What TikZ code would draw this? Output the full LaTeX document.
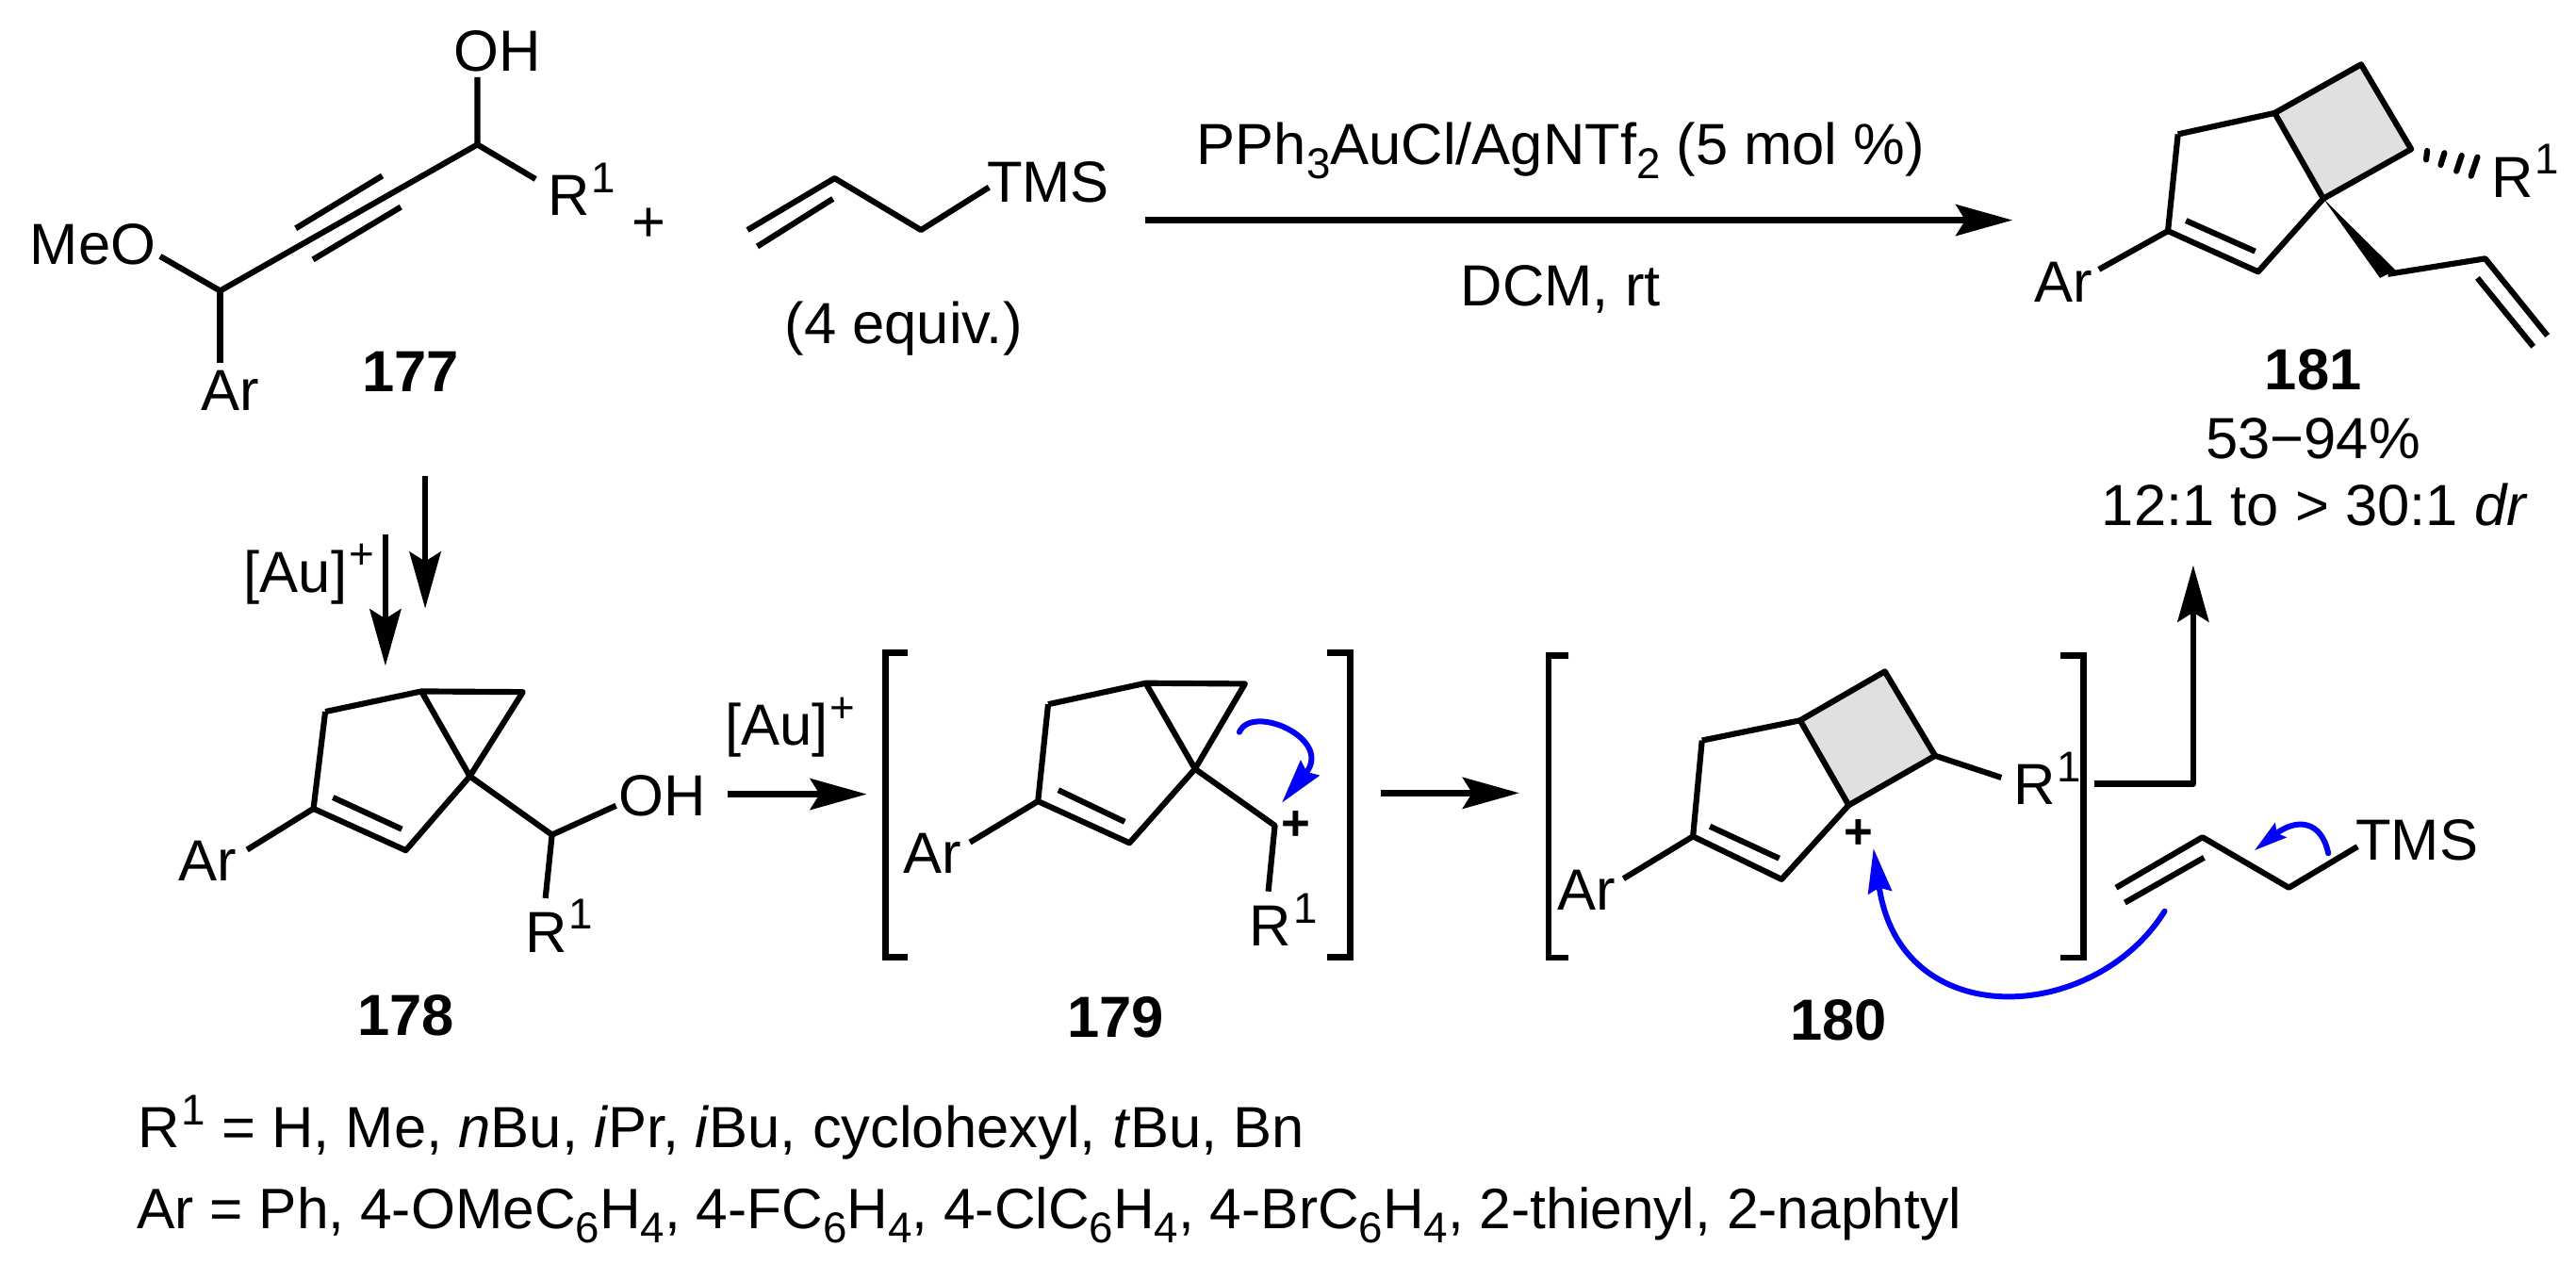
\documentclass[tikz,border=0pt]{standalone}
\usepackage{fontspec}
\setmainfont{Liberation Sans}
\usetikzlibrary{arrows.meta,positioning,calc}
\definecolor{ringgray}{gray}{0.88}
\newcommand{\supmark}[1]{\kern0.6pt\raisebox{6.9pt}{\fontsize{13}{13}\selectfont #1}}
\newcommand{\submark}[1]{\raisebox{-4.3pt}{\fontsize{13}{13}\selectfont #1}}
\tikzset{
  bond/.style={line width=1.75pt,line join=round},
  rxnarrow/.style={line width=1.9pt,line join=round,-{Stealth[length=0.6cm,width=0.33cm,inset=0.1cm]}},
  curlyarrow/.style={blue,line width=1.7pt,line cap=round,-{Stealth[length=0.47cm,width=0.25cm,inset=0.05cm]}},
  brack/.style={line width=1.9pt,line join=miter},
  atomlabel/.style={inner sep=0pt,font=\fontsize{17.5}{20}\selectfont},
  Rlabel/.style={atomlabel,anchor=base west},
  cmpd/.style={atomlabel,font=\fontsize{17.5}{20}\selectfont\bfseries},
  cation/.style={atomlabel,font=\fontsize{15}{18}\selectfont\bfseries},
  notes/.style={atomlabel,anchor=base west}
}
\begin{document}
\begin{tikzpicture}[x=0.01743cm,y=-0.01743cm]
	\useasboundingbox (0,0) rectangle (1568,769);

	% Propargylic substrate 177
	\coordinate (sA) at (290.6,88);
	\coordinate (sB) at (134,177);
	\coordinate (sOH) at (290.6,47);
	\coordinate (sR) at (326,109);
	\coordinate (sMeO) at (97.5,156);
	\coordinate (sAr) at (134,221);
	\coordinate (sT1) at (232.7,107);
	\coordinate (sT2) at (180,139);
	\coordinate (sT3) at (244,126);
	\coordinate (sT4) at (190.5,158);
	\draw[bond] (sOH) -- (sA) -- (sR);
	\draw[bond] (sA) -- (sB) -- (sMeO);
	\draw[bond] (sB) -- (sAr);
	\draw[bond] (sT1) -- (sT2);
	\draw[bond] (sT3) -- (sT4);
	\node[atomlabel] (oh177) at (303,31) {OH};
	\node[Rlabel] (r177) at (333,131) {R\supmark{1}};
	\node[atomlabel] (meo177) at (56.5,149) {MeO};
	\node[atomlabel] (ar177) at (140,238) {Ar};
	\node[cmpd] (lab177) at (250,226) {177};
	\node[atomlabel] (plus) at (395,137) {+};

	% Allyl silane
	\coordinate (aA) at (455,140);
	\coordinate (aB) at (508,108.5);
	\coordinate (aC) at (560.6,140);
	\coordinate (aD) at (602,114);
	\coordinate (aE) at (461,150);
	\coordinate (aF) at (507,121);
	\draw[bond] (aA) -- (aB) -- (aC) -- (aD);
	\draw[bond] (aE) -- (aF);
	\node[atomlabel] (tms) at (638,111) {TMS};
	\node[atomlabel] (equiv) at (550,200) {(4 equiv.)};

	% Top reaction arrow
	\coordinate (topL) at (697,134);
	\coordinate (topR) at (1225,134);
	\draw[rxnarrow] (topL) -- (topR);
	\node[atomlabel,anchor=base] (cat) at (950,100) {PPh\submark{3}AuCl/AgNTf\submark{2} (5 mol \%)};
	\node[atomlabel] (solv) at (950,176) {DCM, rt};

	% Product 181
	\coordinate (pA) at (1437.2,39.2);
	\coordinate (pB) at (1384.6,68.8);
	\coordinate (pC) at (1325.7,81.7);
	\coordinate (pD) at (1319.6,140.6);
	\coordinate (pE) at (1374.5,165.4);
	\coordinate (pF) at (1414.2,120.9);
	\coordinate (pG) at (1467.7,90.8);
	\coordinate (pH) at (1330.6,134.3);
	\coordinate (pI) at (1372.7,153);
	\coordinate (pAr) at (1277.6,164);
	\coordinate (pJa) at (1448.7,169.2);
	\coordinate (pJb) at (1458.2,164.5);
	\coordinate (pK) at (1512.7,157.4);
	\coordinate (pL) at (1550.6,204.3);
	\coordinate (pM) at (1508,169.2);
	\coordinate (pN) at (1542,211);
	\fill[ringgray] (pB) -- (pA) -- (pG) -- (pF) -- cycle;
	\draw[bond] (pC) -- (pB) -- (pA) -- (pG) -- (pF) -- (pB);
	\draw[bond] (pF) -- (pE) -- (pD) -- (pC);
	\draw[bond] (pH) -- (pI);
	\draw[bond] (pD) -- (pAr);
	\fill (pF) -- (pJb) -- (pJa) -- cycle;
	\draw[bond] ($(pJa)!0.5!(pJb)$) -- (pK) -- (pL);
	\draw[bond] (pM) -- (pN);
	% hashed bond
	\foreach \xa/\ya/\xb/\yb in {1477.4/91.8/1476.8/97.2,1487.9/93.1/1485.6/100.4,1498.4/94.7/1495.2/104.2,1508/95.6/1504.1/107.1}
		\draw[bond,line cap=round] (\xa,\ya) -- (\xb,\yb);
	\node[atomlabel] (ar181) at (1256,172) {Ar};
	\node[Rlabel] (r181) at (1516,120) {R\supmark{1}};
	\node[cmpd] (lab181) at (1408,225) {181};
	\node[atomlabel] (yield) at (1408,267) {53−94\%};
	\node[atomlabel] (dr) at (1409,307) {12:1 to > 30:1 \textit{dr}};

	% Down arrows to 178
	\coordinate (dn1) at (258.8,290);
	\coordinate (dn2) at (258.8,370.4);
	\coordinate (dn3) at (234.6,325.5);
	\coordinate (dn4) at (234.6,405.3);
	\draw[rxnarrow] (dn1) -- (dn2);
	\draw[rxnarrow] (dn3) -- (dn4);
	\node[Rlabel] (au1) at (148,360.4) {[Au]\supmark{+}};

	% Intermediate 178
	\coordinate (bA) at (318.3,421.2);
	\coordinate (bB) at (256.5,420.8);
	\coordinate (bC) at (198,433.2);
	\coordinate (bD) at (190.8,492.2);
	\coordinate (bE) at (247,517.6);
	\coordinate (bF) at (286,472.5);
	\coordinate (bH) at (202.7,485.4);
	\coordinate (bI) at (244.6,504.7);
	\coordinate (bAr) at (150.4,517.2);
	\coordinate (bG) at (336,508.1);
	\coordinate (bOH) at (375,490.4);
	\coordinate (bR) at (332,546.7);
	\draw[bond] (bC) -- (bB) -- (bA) -- (bF) -- (bB);
	\draw[bond] (bC) -- (bD) -- (bE) -- (bF) -- (bG) -- (bOH);
	\draw[bond] (bG) -- (bR);
	\draw[bond] (bH) -- (bI);
	\draw[bond] (bD) -- (bAr);
	\node[atomlabel] (ar178) at (126.6,524) {Ar};
	\node[atomlabel] (oh178) at (403.4,484.3) {OH};
	\node[Rlabel] (r178) at (319.2,579.6) {R\supmark{1}};
	\node[cmpd] (lab178) at (247,618) {178};

	% Arrow to 179
	\coordinate (m1) at (443,483.4);
	\coordinate (m2) at (527.6,483.4);
	\draw[rxnarrow] (m1) -- (m2);
	\node[Rlabel] (au2) at (441,453.7) {[Au]\supmark{+}};

	% Intermediate 179
	\coordinate (cTL) at (552.3,397.4);
	\coordinate (cML) at (539,397.4);
	\coordinate (cBL) at (539,582.5);
	\coordinate (cBE) at (552.3,582.5);
	\coordinate (cTR) at (808,397.4);
	\coordinate (cMR) at (822,397.4);
	\coordinate (cBR) at (822,582.5);
	\coordinate (cBF) at (808,582.5);
	\draw[brack] (cTL) -- (cML) -- (cBL) -- (cBE);
	\draw[brack] (cTR) -- (cMR) -- (cBR) -- (cBF);
	\coordinate (cA) at (757.8,416.2);
	\coordinate (cB) at (697.4,415.8);
	\coordinate (cC) at (638,428.7);
	\coordinate (cD) at (631.8,487.7);
	\coordinate (cE) at (687.5,513.1);
	\coordinate (cF) at (727.4,468);
	\coordinate (cH) at (644.2,480.9);
	\coordinate (cI) at (684.6,500.2);
	\coordinate (cAr) at (590.4,512.7);
	\coordinate (cG) at (776,502.5);
	\coordinate (cR) at (772,542.6);
	\draw[bond] (cC) -- (cB) -- (cA) -- (cF) -- (cB);
	\draw[bond] (cC) -- (cD) -- (cE) -- (cF) -- (cG) -- (cR);
	\draw[bond] (cH) -- (cI);
	\draw[bond] (cD) -- (cAr);
	\node[atomlabel] (ar179) at (567.6,519.5) {Ar};
	\node[cation] (plus179) at (789,502.5) {+};
	\node[Rlabel] (r179) at (760.2,575.7) {R\supmark{1}};
	\node[cmpd] (lab179) at (679,619) {179};
	% curved arrow on 179
	\coordinate (k1) at (754.4,445.6);
	\coordinate (k2) at (780.3,488.6);
	\draw[curlyarrow] (k1) .. controls (762,428) and (811.8,449.6) .. (k2);

	% Arrow to 180
	\coordinate (n1) at (840.4,482.7);
	\coordinate (n2) at (924.8,482.7);
	\draw[rxnarrow] (n1) -- (n2);

	% Intermediate 180
	\coordinate (dTL) at (954.9,399.1);
	\coordinate (dML) at (942.7,399.1);
	\coordinate (dBL) at (942.7,582.9);
	\coordinate (dBE) at (954.9,582.9);
	\coordinate (dTR) at (1254.4,399.1);
	\coordinate (dMR) at (1268.4,399.1);
	\coordinate (dBR) at (1268.4,582.9);
	\coordinate (dBF) at (1254.4,582.9);
	\draw[brack] (dTL) -- (dML) -- (dBL) -- (dBE);
	\draw[brack] (dTR) -- (dMR) -- (dBR) -- (dBF);
	\coordinate (eA) at (1147.3,408.7);
	\coordinate (eB) at (1095.7,438.5);
	\coordinate (eC) at (1036,450.7);
	\coordinate (eD) at (1030.5,509.1);
	\coordinate (eE) at (1084.4,535.2);
	\coordinate (eF) at (1125.3,490.1);
	\coordinate (eG) at (1177.9,460);
	\coordinate (eR) at (1218.2,473.3);
	\coordinate (eH) at (1040.8,503);
	\coordinate (eI) at (1083,522.5);
	\coordinate (eAr) at (988.2,534.8);
	\fill[ringgray] (eB) -- (eA) -- (eG) -- (eF) -- cycle;
	\draw[bond] (eC) -- (eB) -- (eA) -- (eG) -- (eF) -- (eB);
	\draw[bond] (eG) -- (eR);
	\draw[bond] (eF) -- (eE) -- (eD) -- (eC);
	\draw[bond] (eH) -- (eI);
	\draw[bond] (eD) -- (eAr);
	\node[atomlabel] (ar180) at (965.7,541.9) {Ar};
	\node[Rlabel] (r180) at (1225.3,489.7) {R\supmark{1}};
	\node[cation] (plus180) at (1131.4,507.5) {+};
	\node[cmpd] (lab180) at (1119,621) {180};

	% Arrow up to 181
	\coordinate (u1) at (1274.6,477);
	\coordinate (u2) at (1335,477);
	\coordinate (u3) at (1335,344);
	\draw[rxnarrow] (u1) -- (u2) -- (u3);

	% Second allyl silane
	\coordinate (fA) at (1288,540.3);
	\coordinate (fB) at (1340.6,509.6);
	\coordinate (fC) at (1393.2,540.3);
	\coordinate (fD) at (1435,515.3);
	\coordinate (fE) at (1293.4,549.4);
	\coordinate (fF) at (1341.6,522);
	\draw[bond] (fA) -- (fB) -- (fC) -- (fD);
	\draw[bond] (fE) -- (fF);
	\node[atomlabel] (tms2) at (1471.2,511.2) {TMS};

	% Blue curved arrows
	\coordinate (g1) at (1317.6,554.6);
	\coordinate (g2) at (1140.4,516.4);
	\draw[curlyarrow] (g1) .. controls (1275,623) and (1157,630) .. (g2);
	\coordinate (h1) at (1417.2,519.4);
	\coordinate (h2) at (1372.2,517.7);
	\draw[curlyarrow,-{Stealth[length=0.35cm,width=0.19cm,inset=0.05cm]}] (h1) .. controls (1413,499) and (1397.6,498) .. (h2);

	% Substituent lines
	\node[notes] (rlist) at (83.5,698.6) {R\supmark{1} = H, Me, \textit{n}Bu, \textit{i}Pr, \textit{i}Bu, cyclohexyl, \textit{t}Bu, Bn};
	\node[notes,font=\fontsize{17.2}{20}\selectfont] (arlist) at (83,747.7) {Ar = Ph, 4-OMeC\submark{6}H\submark{4}, 4-FC\submark{6}H\submark{4}, 4-ClC\submark{6}H\submark{4}, 4-BrC\submark{6}H\submark{4}, 2-thienyl, 2-naphtyl};
\end{tikzpicture}
\end{document}
